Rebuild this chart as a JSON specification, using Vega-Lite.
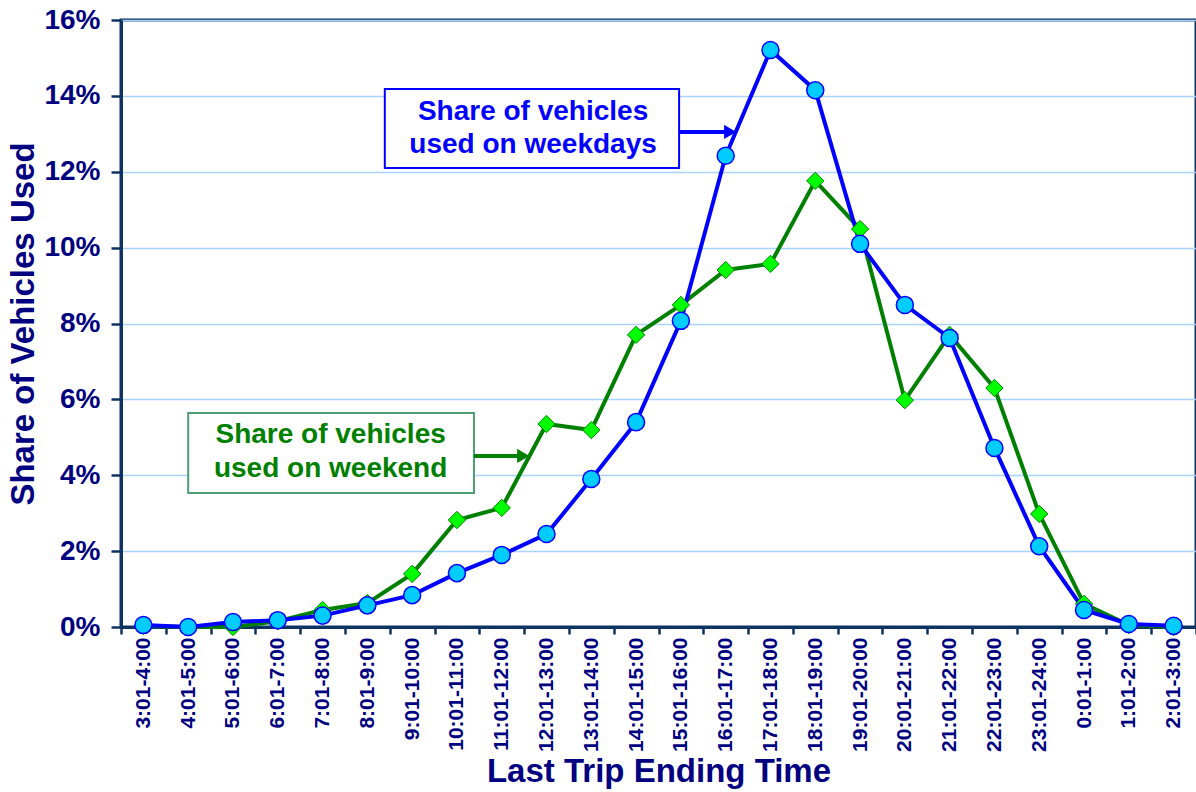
{
  "$schema": "https://vega.github.io/schema/vega-lite/v6.json",
  "width": 1075,
  "height": 607,
  "autosize": {"type": "none"},
  "padding": {"left": 121, "top": 20, "right": 0, "bottom": 165},
  "background": "white",
  "config": {
    "view": {"stroke": "#0d3362", "strokeWidth": 3},
    "font": "Liberation Sans"
  },
  "datasets": {
    "main": [
      {"time": "3:01-4:00", "series": "Weekday", "share": 0.05},
      {"time": "4:01-5:00", "series": "Weekday", "share": 0.0},
      {"time": "5:01-6:00", "series": "Weekday", "share": 0.13},
      {"time": "6:01-7:00", "series": "Weekday", "share": 0.18},
      {"time": "7:01-8:00", "series": "Weekday", "share": 0.3},
      {"time": "8:01-9:00", "series": "Weekday", "share": 0.57},
      {"time": "9:01-10:00", "series": "Weekday", "share": 0.84},
      {"time": "10:01-11:00", "series": "Weekday", "share": 1.42},
      {"time": "11:01-12:00", "series": "Weekday", "share": 1.9},
      {"time": "12:01-13:00", "series": "Weekday", "share": 2.45},
      {"time": "13:01-14:00", "series": "Weekday", "share": 3.9},
      {"time": "14:01-15:00", "series": "Weekday", "share": 5.4},
      {"time": "15:01-16:00", "series": "Weekday", "share": 8.07},
      {"time": "16:01-17:00", "series": "Weekday", "share": 12.42},
      {"time": "17:01-18:00", "series": "Weekday", "share": 15.21},
      {"time": "18:01-19:00", "series": "Weekday", "share": 14.15},
      {"time": "19:01-20:00", "series": "Weekday", "share": 10.1},
      {"time": "20:01-21:00", "series": "Weekday", "share": 8.49},
      {"time": "21:01-22:00", "series": "Weekday", "share": 7.62},
      {"time": "22:01-23:00", "series": "Weekday", "share": 4.72},
      {"time": "23:01-24:00", "series": "Weekday", "share": 2.13},
      {"time": "0:01-1:00", "series": "Weekday", "share": 0.45},
      {"time": "1:01-2:00", "series": "Weekday", "share": 0.08},
      {"time": "2:01-3:00", "series": "Weekday", "share": 0.03},
      {"time": "3:01-4:00", "series": "Weekend", "share": 0.03},
      {"time": "4:01-5:00", "series": "Weekend", "share": 0.0},
      {"time": "5:01-6:00", "series": "Weekend", "share": 0.0},
      {"time": "6:01-7:00", "series": "Weekend", "share": 0.15},
      {"time": "7:01-8:00", "series": "Weekend", "share": 0.45},
      {"time": "8:01-9:00", "series": "Weekend", "share": 0.63},
      {"time": "9:01-10:00", "series": "Weekend", "share": 1.4},
      {"time": "10:01-11:00", "series": "Weekend", "share": 2.82},
      {"time": "11:01-12:00", "series": "Weekend", "share": 3.14},
      {"time": "12:01-13:00", "series": "Weekend", "share": 5.35},
      {"time": "13:01-14:00", "series": "Weekend", "share": 5.19},
      {"time": "14:01-15:00", "series": "Weekend", "share": 7.7},
      {"time": "15:01-16:00", "series": "Weekend", "share": 8.49},
      {"time": "16:01-17:00", "series": "Weekend", "share": 9.41},
      {"time": "17:01-18:00", "series": "Weekend", "share": 9.57},
      {"time": "18:01-19:00", "series": "Weekend", "share": 11.76},
      {"time": "19:01-20:00", "series": "Weekend", "share": 10.49},
      {"time": "20:01-21:00", "series": "Weekend", "share": 5.98},
      {"time": "21:01-22:00", "series": "Weekend", "share": 7.7},
      {"time": "22:01-23:00", "series": "Weekend", "share": 6.3},
      {"time": "23:01-24:00", "series": "Weekend", "share": 2.98},
      {"time": "0:01-1:00", "series": "Weekend", "share": 0.61},
      {"time": "1:01-2:00", "series": "Weekend", "share": 0.05},
      {"time": "2:01-3:00", "series": "Weekend", "share": 0.0}
    ],
    "boxes": [
      {"series": "weekday", "x1": 5.89, "x2": 12.46, "y1": 12.1, "y2": 14.18},
      {"series": "weekend", "x1": 1.5, "x2": 7.88, "y1": 3.53, "y2": 5.64}
    ],
    "labels": [
      {"series": "weekday", "line": "Share of vehicles", "x": 9.2, "y": 13.36},
      {"series": "weekday", "line": "used on weekdays", "x": 9.2, "y": 12.49},
      {"series": "weekend", "line": "Share of vehicles", "x": 4.68, "y": 4.85},
      {"series": "weekend", "line": "used on weekend", "x": 4.68, "y": 3.95}
    ],
    "arrows": [
      {"series": "weekday", "x1": 12.46, "x2": 13.5, "y": 13.05, "tip": 13.6},
      {"series": "weekend", "x1": 7.88, "x2": 8.9, "y": 4.51, "tip": 8.98}
    ]
  },
  "layer": [
    {
      "data": {"name": "main"},
      "encoding": {
        "x": {
          "field": "time",
          "type": "ordinal",
          "bandPosition": 0.5,
          "title": "Last Trip Ending Time",
          "scale": {
            "type": "band",
            "paddingInner": 0,
            "paddingOuter": 0,
            "domain": ["3:01-4:00","4:01-5:00","5:01-6:00","6:01-7:00","7:01-8:00","8:01-9:00","9:01-10:00","10:01-11:00","11:01-12:00","12:01-13:00","13:01-14:00","14:01-15:00","15:01-16:00","16:01-17:00","17:01-18:00","18:01-19:00","19:01-20:00","20:01-21:00","21:01-22:00","22:01-23:00","23:01-24:00","0:01-1:00","1:01-2:00","2:01-3:00"]
          },
          "axis": {
            "labelAngle": 270,
            "labelFontSize": 21,
            "labelFontWeight": "bold",
            "labelColor": "#000080",
            "labelPadding": 3,
            "tickBand": "extent",
            "tickSize": 7,
            "tickWidth": 2.5,
            "tickColor": "#0d3362",
            "domainColor": "#0d3362",
            "domainWidth": 3,
            "grid": false,
            "titleFontSize": 33,
            "titleFontWeight": "bold",
            "titleColor": "#000080",
            "titlePadding": 4
          }
        },
        "y": {
          "field": "share",
          "type": "quantitative",
          "title": "Share of Vehicles Used",
          "scale": {"domain": [0, 16], "nice": false},
          "axis": {
            "values": [0, 2, 4, 6, 8, 10, 12, 14, 16],
            "labelExpr": "datum.value + '%'",
            "labelFontSize": 28,
            "labelFontWeight": "bold",
            "labelColor": "#000080",
            "labelPadding": 11,
            "tickSize": 10,
            "tickWidth": 2.5,
            "tickColor": "#0d3362",
            "domainColor": "#0d3362",
            "domainWidth": 3,
            "gridColor": "#A8D4FF",
            "gridWidth": 1.5,
            "titleFontSize": 33,
            "titleFontWeight": "bold",
            "titleColor": "#000080",
            "titlePadding": 3
          }
        },
        "order": {"value": null}
      },
      "layer": [
        {
          "transform": [{"filter": "datum.series === 'Weekend'"}],
          "mark": {"type": "line", "color": "#008000", "strokeWidth": 4}
        },
        {
          "transform": [{"filter": "datum.series === 'Weekday'"}],
          "mark": {"type": "line", "color": "#0000FF", "strokeWidth": 4}
        },
        {
          "transform": [{"filter": "datum.series === 'Weekend'"}],
          "mark": {"type": "point", "shape": "diamond", "filled": true, "fill": "#00FF00", "stroke": "#008000", "strokeWidth": 1, "size": 300, "opacity": 1}
        },
        {
          "transform": [{"filter": "datum.series === 'Weekday'"}],
          "mark": {"type": "point", "shape": "circle", "filled": true, "fill": "#00CCFF", "stroke": "#0000FF", "strokeWidth": 1.5, "size": 290, "opacity": 1}
        }
      ]
    },
    {
      "layer": [
        {
          "data": {"name": "boxes"},
          "mark": {"type": "rect", "fill": "white", "strokeWidth": 2},
          "encoding": {
            "x": {"field": "x1", "type": "quantitative", "scale": {"domain": [0, 24], "nice": false, "zero": false}, "axis": null},
            "x2": {"field": "x2"},
            "y": {"field": "y1", "type": "quantitative", "title": "Share of Vehicles Used", "scale": {"domain": [0, 16], "nice": false}},
            "y2": {"field": "y2"},
            "stroke": {"field": "series", "type": "nominal", "scale": {"domain": ["weekday", "weekend"], "range": ["#0000FF", "#4C9F73"]}, "legend": null}
          }
        },
        {
          "data": {"name": "arrows"},
          "mark": {"type": "rule", "strokeWidth": 4},
          "encoding": {
            "x": {"field": "x1", "type": "quantitative", "scale": {"domain": [0, 24], "nice": false, "zero": false}, "axis": null},
            "x2": {"field": "x2"},
            "y": {"field": "y", "type": "quantitative", "title": "Share of Vehicles Used", "scale": {"domain": [0, 16], "nice": false}},
            "color": {"field": "series", "type": "nominal", "scale": {"domain": ["weekday", "weekend"], "range": ["#0000FF", "#008000"]}, "legend": null}
          }
        },
        {
          "data": {"name": "arrows"},
          "mark": {"type": "point", "shape": "triangle-right", "filled": true, "size": 200, "opacity": 1},
          "encoding": {
            "x": {"field": "tip", "type": "quantitative", "scale": {"domain": [0, 24], "nice": false, "zero": false}, "axis": null},
            "y": {"field": "y", "type": "quantitative", "title": "Share of Vehicles Used", "scale": {"domain": [0, 16], "nice": false}},
            "color": {"field": "series", "type": "nominal", "scale": {"domain": ["weekday", "weekend"], "range": ["#0000FF", "#008000"]}, "legend": null}
          }
        },
        {
          "data": {"name": "labels"},
          "mark": {"type": "text", "fontSize": 28, "fontWeight": "bold", "align": "center", "baseline": "alphabetic", "font": "Liberation Sans"},
          "encoding": {
            "x": {"field": "x", "type": "quantitative", "scale": {"domain": [0, 24], "nice": false, "zero": false}, "axis": null},
            "y": {"field": "y", "type": "quantitative", "title": "Share of Vehicles Used", "scale": {"domain": [0, 16], "nice": false}},
            "text": {"field": "line"},
            "color": {"field": "series", "type": "nominal", "scale": {"domain": ["weekday", "weekend"], "range": ["#0000FF", "#008000"]}, "legend": null}
          }
        }
      ]
    }
  ],
  "resolve": {"scale": {"x": "independent"}}
}
